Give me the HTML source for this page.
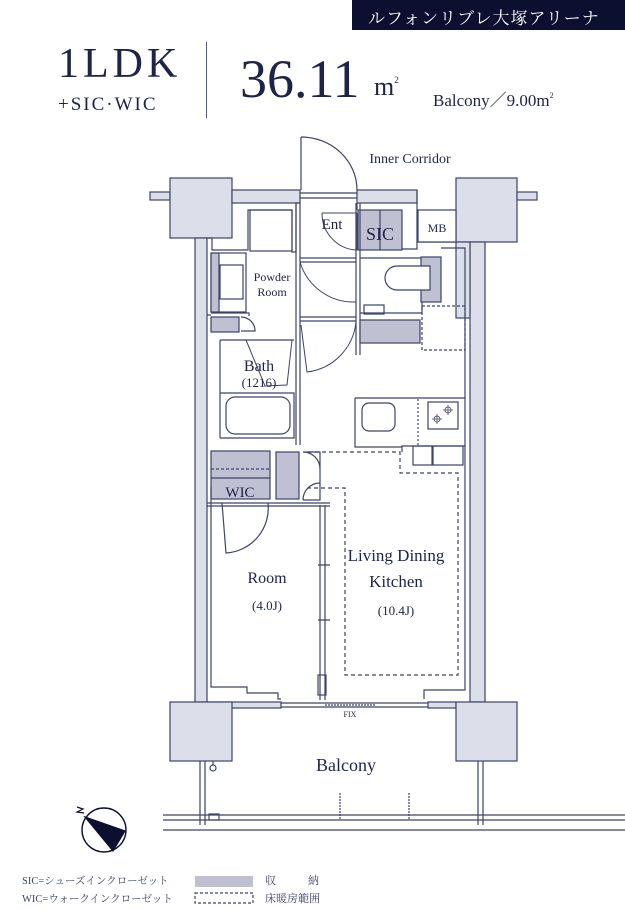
<!DOCTYPE html>
<html><head><meta charset="utf-8"><style>
html,body{margin:0;padding:0;background:#fff;}
body{width:625px;height:910px;overflow:hidden;position:relative;font-family:"Liberation Serif","Noto Serif CJK SC",serif;color:#1e2448;}
.t{position:absolute;white-space:nowrap;}
</style></head><body>
<div style="position:absolute;left:352px;top:0;width:273px;height:30px;background:#0b0f30;"></div>
<div class="t" style="left:368px;top:4px;font-size:17px;color:#fff;letter-spacing:1px;font-family:'Noto Serif CJK SC',serif;">ルフォンリブレ大塚アリーナ</div>
<div class="t" style="left:58px;top:40px;font-size:42px;letter-spacing:4px;">1LDK</div>
<div class="t" style="left:58px;top:94px;font-size:19px;letter-spacing:2px;">+SIC·WIC</div>
<div style="position:absolute;left:206px;top:42px;width:1px;height:76px;background:#555a78;"></div>
<div class="t" style="left:240px;top:48px;font-size:54px;">36.11</div>
<div class="t" style="left:374px;top:72px;font-size:26px;">m<sup style="font-size:9px;vertical-align:12px;">2</sup></div>
<div class="t" style="left:433px;top:86px;font-size:17px;">Balcony／9.00m<sup style="font-size:8px;vertical-align:8px;">2</sup></div>

<svg width="625" height="910" style="position:absolute;left:0;top:0" xmlns="http://www.w3.org/2000/svg">
<g stroke="#3d4468" stroke-width="1.2" fill="none">
<rect x="150" y="192" width="20" height="8" fill="#dcdeea"/>
<rect x="170" y="178" width="62" height="60" fill="#dcdeea"/>
<rect x="456" y="178" width="61" height="64" fill="#dcdeea"/>
<rect x="517" y="192" width="20" height="8" fill="#dcdeea"/>
<rect x="195" y="238" width="12" height="464" fill="#dcdeea"/>
<rect x="470" y="242" width="15" height="460" fill="#dcdeea"/>
<rect x="456" y="242" width="14" height="76" fill="#dcdeea"/>
<rect x="232" y="190" width="68" height="13" fill="#dcdeea"/>
<path d="M207 238 H212 V250 H248 V210 H292 V252 H296 V203 H300" />
<rect x="357" y="190" width="60" height="13" fill="#dcdeea"/>
<path d="M357 203 V210 M417 190 V242 H456 M356 249 H417 V242"/>
<rect x="418" y="210" width="38" height="32" fill="#fff"/>
<path d="M301 137 V190 M301 137 A56 53 0 0 1 357 190"/>
<path d="M300 193 H357 M300 198 H357"/>
<rect x="358" y="210" width="44" height="40" fill="#bfc1d2"/>
<path d="M380 210 V250"/>
<path d="M357 213 L357 250 M357 213 L322 213 M322 213 A36 37 0 0 0 357 250" stroke-width="1"/>
<path d="M296 203 V445 M300 203 V445"/>
<path d="M356 203 V355 M360 203 V355"/>
<path d="M300 258 H356 M300 262 H356 M300 317 H356 M300 321 H356"/>
<path d="M300 262 A56 56 0 0 0 356 302 M301 325 L307 372 A56 56 0 0 0 356 322" stroke-width="1"/>
<path d="M360 258 H440 V300 H422 V313 H360"/>
<rect x="421" y="257" width="20" height="45" fill="#bfc1d2"/>
<path d="M397 266 H430 V290 H397 A12 12 0 0 1 397 266 Z" fill="#fff"/>
<rect x="364" y="305" width="20" height="9"/>
<rect x="360" y="320" width="60" height="23" fill="#bfc1d2"/>
<rect x="422" y="306" width="43" height="44" stroke-dasharray="3 2"/>
<path d="M441 248 H465 V398"/>
<path d="M355 398 H465 V446 H402 V452 M355 398 V447 H402"/>
<rect x="362" y="403" width="33" height="28" rx="7"/>
<path d="M418 399 V447" stroke-dasharray="2 2"/>
<rect x="428" y="402" width="30" height="27"/>
<g stroke-width="0.8"><circle cx="437" cy="419" r="3"/><circle cx="448" cy="410" r="3"/>
<path d="M432 419 H442 M437 414 V424 M443 410 H453 M448 405 V415"/></g>
<rect x="413" y="446" width="19" height="19"/><rect x="433" y="446" width="30" height="19"/>
<rect x="250" y="210" width="42" height="41"/>
<rect x="211" y="253" width="35" height="59"/>
<rect x="211" y="253" width="8" height="59" fill="#bfc1d2"/>
<rect x="220" y="265" width="23" height="34"/>
<path d="M211 313 H249 V316 M207 315 H211"/>
<rect x="211" y="317" width="28" height="15" fill="#bfc1d2"/>
<path d="M241 317 A14 14 0 0 1 255 331 H241"/>
<path d="M220 340 H294 M220 340 V438 M220 393 H294 V438 H220"/>
<path d="M246 340 L265 386 L287 385 L292 340" stroke-width="1"/>
<rect x="226" y="397" width="64" height="37" rx="9"/>
<rect x="211" y="451" width="59" height="48" fill="#bfc1d2"/>
<path d="M211 469 H270" stroke-dasharray="3 2"/>
<path d="M211 478 H270"/>
<rect x="276" y="452" width="23" height="47" fill="#bfc1d2"/>
<path d="M303 452 H320 V500 H303 M303 452 A17 17 0 0 1 320 469 M303 500 A17 17 0 0 1 320 483" />
<path d="M207 506 H330 M207 503 H330"/>
<path d="M222 503 L226 553 A45 45 0 0 0 268 503"/>
<path d="M320 505 V700 M325 505 V700 M318 565 H330 M318 620 H330"/>
<rect x="318" y="675" width="8" height="20"/>
<path d="M211 506 V687 H247 V693 H278 V699 H281 M211 487 V687"/>
<path d="M465 446 V690 H424 V699"/>
<path d="M308 452 H400 V473 H458 V675 H345 V488 H308" stroke-dasharray="4 3"/>
<rect x="207" y="702" width="74" height="6" fill="#dcdeea"/>
<rect x="428" y="702" width="28" height="6" fill="#dcdeea"/>
<path d="M281 703 H428 M281 707 H428"/>
<path d="M325 705 H376" stroke-dasharray="2 1"/>
<rect x="170" y="702" width="62" height="59" fill="#dcdeea"/>
<rect x="456" y="702" width="61" height="59" fill="#dcdeea"/>
<path d="M200 761 V825 M205 761 V825 M478 761 V825 M483 761 V825"/>
<path d="M163 815 H625 M163 820 H625 M163 830 H625"/>
<circle cx="213" cy="768" r="3"/><path d="M213 761 V765"/>
<rect x="209" y="814" width="10" height="6"/>
<path d="M340 793 V820 M409 793 V820" stroke-dasharray="2 1"/>
<circle cx="104" cy="830" r="22" stroke="#0b0f30" stroke-width="1.4"/>
<path d="M85 817 L125 831 L113 851 Z" fill="#0b0f30" stroke="#0b0f30"/>
<path d="M77 807 L83 809 L77 812 L84 813" stroke="#0b0f30"/>
<rect x="195" y="876" width="58" height="11" fill="#bfc1d2" stroke="none"/>
<rect x="195" y="893" width="58" height="10" stroke-dasharray="3 2"/>
</g>
<g fill="#1e2448" font-family="Liberation Serif, serif" text-anchor="middle">
<text x="410" y="163" font-size="14">Inner Corridor</text>
<text x="332" y="229" font-size="15">Ent</text>
<text x="380" y="240" font-size="18">SIC</text>
<text x="437" y="232" font-size="12">MB</text>
<text x="272" y="281" font-size="12">Powder</text>
<text x="272" y="296" font-size="12">Room</text>
<text x="259" y="371" font-size="16">Bath</text>
<text x="259" y="387" font-size="13">(1216)</text>
<text x="240" y="497" font-size="15">WIC</text>
<text x="267" y="583" font-size="16">Room</text>
<text x="267" y="610" font-size="13">(4.0J)</text>
<text x="396" y="561" font-size="17">Living Dining</text>
<text x="396" y="587" font-size="17">Kitchen</text>
<text x="396" y="615" font-size="13">(10.4J)</text>
<text x="350" y="717" font-size="8">FIX</text>
<text x="346" y="771" font-size="18">Balcony</text>
</g>
<g fill="#3d4468" font-family="Liberation Serif, Noto Serif CJK SC, serif" font-size="10.5">
<text x="22" y="884">SIC=シューズインクローゼット</text>
<text x="22" y="902">WIC=ウォークインクローゼット</text>
<text x="265" y="884" font-size="11">収</text>
<text x="308" y="884" font-size="11">納</text>
<text x="265" y="902" font-size="11">床暖房範囲</text>
</g>
</svg>
</body></html>
